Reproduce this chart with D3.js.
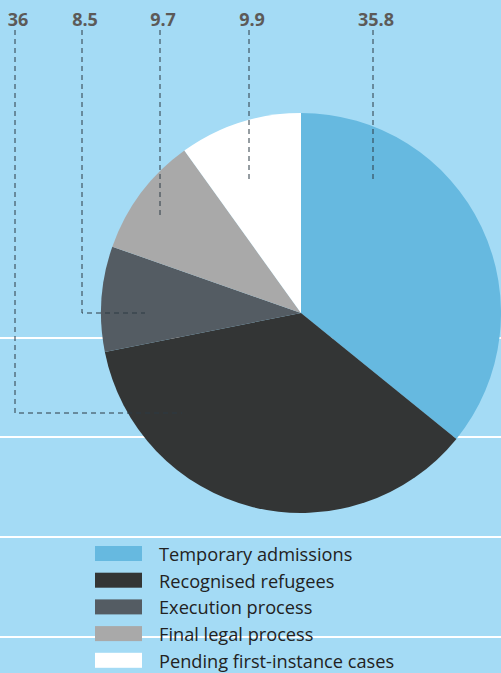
<!DOCTYPE html>
<html>
<head>
<meta charset="utf-8">
<script src="https://cdn.jsdelivr.net/npm/d3@7"></script>
<style>
  html, body { margin: 0; padding: 0; background: #a4dbf5; }
  svg { display: block; }
</style>
</head>
<body>
<svg id="chart" width="501" height="673"></svg>
<script>
// Asylum caseload breakdown (%)
const categories = [
  "Temporary admissions",
  "Recognised refugees",
  "Execution process",
  "Final legal process",
  "Pending first-instance cases"
];
const values = [35.8, 36, 8.5, 9.7, 9.9];
const valueLabels = ["35.8", "36", "8.5", "9.7", "9.9"];
const colors = ["#66b9e0", "#333535", "#545c63", "#a9a9a9", "#ffffff"];

const W = 501, H = 673;
const svg = d3.select("#chart");

// background rules
const gridY = [338, 437, 537, 637];
svg.selectAll("line.rule").data(gridY).enter().append("line")
  .attr("class", "rule")
  .attr("x1", 0).attr("x2", W)
  .attr("y1", d => d).attr("y2", d => d)
  .attr("stroke", "#ffffff").attr("stroke-width", 2);

// pie
const cx = 301, cy = 313, R = 200;
const pie = d3.pie().sort(null).value(d => d.v);
const arc = d3.arc().innerRadius(0).outerRadius(R);
const data = categories.map((c, i) => ({ c, v: values[i], color: colors[i], label: valueLabels[i] }));
const arcs = pie(data);

const g = svg.append("g").attr("transform", `translate(${cx},${cy})`);
g.selectAll("path").data(arcs).enter().append("path")
  .attr("d", arc)
  .attr("fill", d => d.data.color);

// leader layout: label column x and the anchor point inside each slice (relative to centre)
const leaderLayout = [
  { x: 373, ax: 72,   ay: -130 },
  { x: 15,  ax: -119, ay: 100 },
  { x: 82,  ax: -156, ay: 0 },
  { x: 160, ax: -141, ay: -95 },
  { x: 249, ax: -52,  ay: -130 }
];
const topY = 30;
const leaders = svg.append("g");
arcs.forEach((a, i) => {
  const L = leaderLayout[i];
  const px = cx + L.ax, py = cy + L.ay;
  const pts = (Math.abs(L.x - px) > 1)
    ? [[L.x, topY], [L.x, py], [px, py]]
    : [[L.x, topY], [L.x, py]];
  leaders.append("path")
    .attr("d", d3.line()(pts))
    .attr("fill", "none")
    .attr("stroke", "#2d3a44")
    .attr("stroke-width", 1)
    .attr("stroke-dasharray", "5,4");
  leaders.append("text")
    .attr("x", L.x + 3)
    .attr("y", 26)
    .attr("text-anchor", "middle")
    .attr("font-family", "'Open Sans', sans-serif")
    .attr("font-weight", "bold")
    .attr("font-size", 18)
    .attr("fill", "#5c5a58")
    .text(a.data.label);
});

// legend
const legend = svg.append("g");
const rowH = 26.7, ly0 = 546;
data.forEach((d, i) => {
  const y = ly0 + i * rowH;
  legend.append("rect")
    .attr("x", 95).attr("y", y)
    .attr("width", 47).attr("height", 15)
    .attr("fill", d.color);
  legend.append("text")
    .attr("x", 159).attr("y", y + 15)
    .attr("font-family", "'Open Sans', sans-serif")
    .attr("font-size", 18.2)
    .attr("fill", "#222222")
    .text(d.c);
});
</script>
</body>
</html>
